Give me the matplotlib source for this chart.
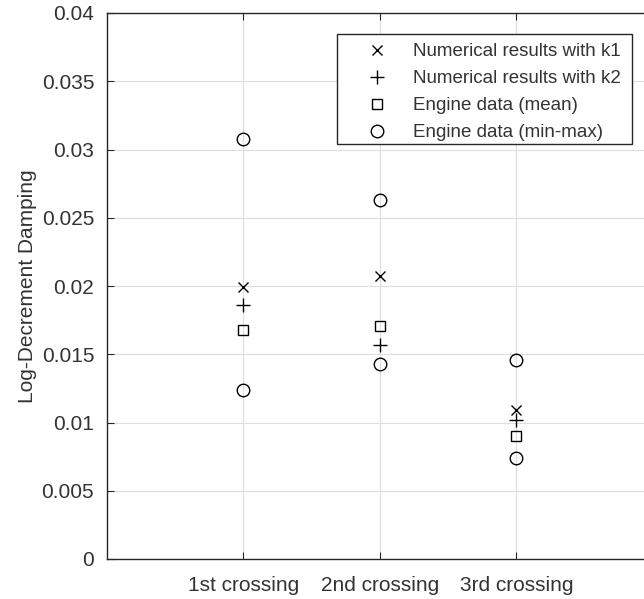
import matplotlib
matplotlib.use("Agg")
import matplotlib.pyplot as plt
from matplotlib.patches import Rectangle

plt.rcParams['font.family'] = ['Liberation Sans', 'DejaVu Sans']

# Crossing categories and log-decrement damping values
crossings = ["1st crossing", "2nd crossing", "3rd crossing"]
k1_results = [0.0199, 0.0207, 0.0109]
k2_results = [0.0186, 0.0157, 0.0102]
engine_mean = [0.0168, 0.0171, 0.0090]
engine_min = [0.0124, 0.0143, 0.0074]
engine_max = [0.0308, 0.0263, 0.0146]
y_ticks = [0, 0.005, 0.01, 0.015, 0.02, 0.025, 0.03, 0.035, 0.04]
y_tick_labels = ["0", "0.005", "0.01", "0.015", "0.02", "0.025", "0.03", "0.035", "0.04"]

W, H = 644, 599
fig = plt.figure(figsize=(W / 100, H / 100), dpi=100)
ax = fig.add_axes([106.7 / W, 40 / H, (653 - 106.7) / W, 546 / H])

x = list(range(1, len(crossings) + 1))
ink = "black"
ax.plot(x, k1_results, linestyle="none", marker="x", ms=6.5, mew=1.0, color=ink,
        label="Numerical results with k1")
ax.plot(x, k2_results, linestyle="none", marker="+", ms=10, mew=1.0, color=ink,
        label="Numerical results with k2")
ax.plot(x, engine_mean, linestyle="none", marker="s", ms=6.5, mew=1.0, mfc="none",
        color=ink, label="Engine data (mean)")
ax.plot(x, engine_min, linestyle="none", marker="o", ms=9, mew=1.0, mfc="none",
        color=ink, label="Engine data (min-max)")
ax.plot(x, engine_max, linestyle="none", marker="o", ms=9, mew=1.0, mfc="none",
        color=ink)

ax.set_xlim(0, 4)
ax.set_ylim(0, 0.04)
ax.set_xticks(x)
ax.set_xticklabels(crossings)
ax.set_yticks(y_ticks)
ax.set_yticklabels(y_tick_labels)

axis_col = "#262626"
text_col = "#333333"
for s in ax.spines.values():
    s.set_color(axis_col)
    s.set_linewidth(1.0)
ax.tick_params(direction="in", length=5, width=0.8, colors=axis_col,
               labelcolor=text_col, labelsize=15, top=True, right=True)
ax.tick_params(axis="y", pad=9)
ax.tick_params(axis="x", pad=12.5)
ax.grid(True, color="#dedede", linewidth=0.8)
ax.set_axisbelow(True)

ax.set_ylabel("Log-Decrement Damping", fontsize=15, color=text_col, labelpad=3.2)

# Legend box: white panel with a thin dark border, entries laid out on top
box_left, box_top, box_right, box_bottom = 337, 34, 632, 144
ax.add_patch(Rectangle((box_left / W, 1 - box_bottom / H),
                       (box_right - box_left) / W, (box_bottom - box_top) / H,
                       transform=fig.transFigure, facecolor="white",
                       edgecolor=axis_col, linewidth=1.0, zorder=4,
                       clip_on=False))
leg = ax.legend(loc="upper left", bbox_to_anchor=(box_left / W, 1 - box_top / H),
                bbox_transform=fig.transFigure, borderaxespad=0,
                fontsize=13.5, frameon=False, handlelength=3.26,
                handletextpad=0.28, borderpad=0.5, labelspacing=0.52,
                numpoints=1)
leg.set_zorder(5)
for t in leg.get_texts():
    t.set_color(text_col)

fig.savefig("out.png", dpi=100, facecolor="white")
